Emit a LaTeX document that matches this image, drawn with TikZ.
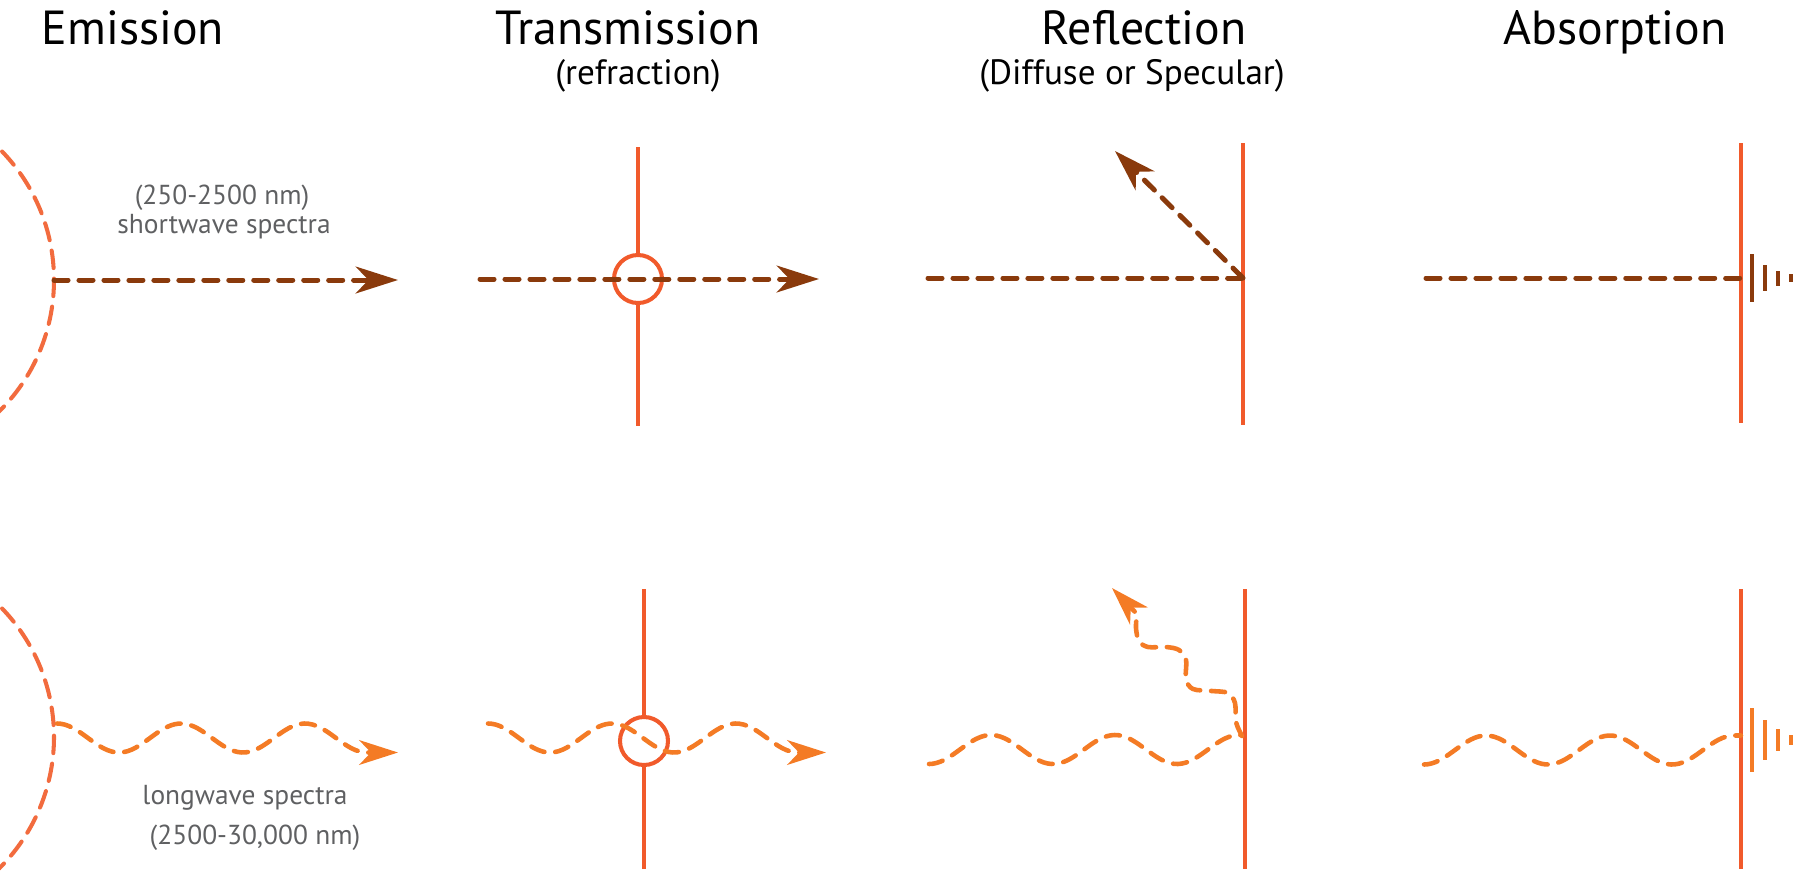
\documentclass[tikz,border=0pt]{standalone}
\usepackage{fontspec}
\setmainfont{PT Sans}
\usetikzlibrary{arrows.meta}
\definecolor{brn}{HTML}{8A3A0C}
\definecolor{org}{HTML}{F15A2B}
\definecolor{arcc}{HTML}{F26B3E}
\definecolor{wavec}{HTML}{F47B25}
\definecolor{txtg}{HTML}{5F6062}
\begin{document}
\begin{tikzpicture}[x=0.01cm,y=-0.01cm,
  surf/.style={draw=org, line width=1.15pt},
  ray/.style={draw=brn, line width=1.42pt, line cap=round, dash pattern=on 4pt off 3.1pt},
  wav/.style={draw=wavec, line width=1.3pt, line cap=round, dash pattern=on 4pt off 3.1pt},
  arcs/.style={draw=arcc, line width=1.15pt, line cap=round, dash pattern=on 5pt off 3pt},
  tipb/.style={-{Stealth[length=12pt,width=7.6pt,inset=3.6pt]}},
  tipo/.style={-{Stealth[length=11pt,width=7pt,inset=3.3pt]}},
  tickb/.style={draw=brn, line width=1.15pt},
  ticko/.style={draw=wavec, line width=1.15pt},
  title/.style={font=\fontsize{13.6}{16}\selectfont, anchor=base, inner sep=0pt},
  sub/.style={font=\fontsize{10}{12}\selectfont, anchor=base, inner sep=0pt},
  note/.style={font=\fontsize{7.8}{9}\selectfont, text=txtg, anchor=base, inner sep=0pt},
]
\useasboundingbox (0,0) rectangle (1793,872);
\clip (0,0) rectangle (1793,872);

% titles
\node[title] (tEm) at (133,44) {Emission};
\node[title] (tTr) at (628,44) {Transmission};
\node[sub]   (sTr) at (638,84) {(refraction)};
\node[title] (tRe) at (1144,44) {Reflection};
\node[sub]   (sRe) at (1132,84) {(Diffuse or Specular)};
\node[title] (tAb) at (1615,44) {Absorption};

% ---------- top row ----------
% emission
\draw[arcs] ([shift={(-44:185)}]-131,280) arc[start angle=-44, end angle=46, radius=185];
\coordinate (e1s) at (54,280);
\coordinate (e1t) at (398,280);
\draw[ray,tipb] (e1s) -- (e1t);
\node[note] (n1) at (222,204) {(250-2500 nm)};
\node[note] (n2) at (224,233) {shortwave spectra};

% transmission
\coordinate (t1c) at (638,279);
\draw[surf] (638,147) -- (638,255);
\draw[surf] (638,303) -- (638,426);
\draw[surf] (t1c) circle[radius=24];
\coordinate (t1s) at (480,279);
\coordinate (t1t) at (819,279);
\draw[ray,tipb] (t1s) -- (t1t);

% reflection
\draw[surf] (1243,143) -- (1243,425);
\coordinate (r1s) at (928,278);
\coordinate (r1h) at (1243,278);
\coordinate (r1t) at (1115,151);
\draw[ray] (r1s) -- (r1h);
\draw[ray,tipb] (r1h) -- (r1t);

% absorption
\draw[surf] (1741,143) -- (1741,423);
\coordinate (a1s) at (1426,278);
\coordinate (a1h) at (1741,278);
\draw[ray] (a1s) -- (a1h);
\draw[tickb] (1752,254) -- (1752,302);
\draw[tickb] (1765,265) -- (1765,291);
\draw[tickb] (1778,271) -- (1778,286);
\draw[tickb] (1791,274) -- (1791,282);

% ---------- bottom row ----------
% emission
\draw[arcs] ([shift={(-44:185)}]-131,737) arc[start angle=-44, end angle=52, radius=185];
\draw[wav,tipo] plot[domain=57:367,samples=80,smooth] (\x,{738-14.5*cos(2.90323*(\x-57))}) -- (398,752.5);
\node[note] (n3) at (245,804) {longwave spectra};
\node[note] (n4) at (255,844) {(2500-30,000 nm)};

% transmission
\draw[surf] (644,589) -- (644,717);
\draw[surf] (644,765) -- (644,869);
\draw[surf] (644,741) circle[radius=24];
\draw[wav,tipo] plot[domain=488:798,samples=80,smooth] (\x,{738-14.5*cos(2.90323*(\x-488))}) -- (826,752.5);

% reflection
\draw[surf] (1245,589) -- (1245,869);
\draw[wav] plot[domain=929:1241,samples=80,smooth] (\x,{749.5+14.5*cos(2.90323*(\x-929))});
\draw[wav,tipo] plot[smooth,tension=0.55] coordinates {(1242,736) (1236,722) (1235,703) (1228,693) (1212,691) (1193,689) (1186,679) (1186,660) (1179,650) (1166,647) (1148,647) (1139,641) (1136,628) (1137,614)} -- (1112,588);

% absorption
\draw[surf] (1741,589) -- (1741,869);
\draw[wav] plot[domain=1424:1734,samples=80,smooth] (\x,{750+14.5*cos(2.90323*(\x-1424))}) -- (1741,735.5);
\draw[ticko] (1752,708) -- (1752,772);
\draw[ticko] (1765,720) -- (1765,760);
\draw[ticko] (1778,729) -- (1778,751);
\draw[ticko] (1791,735) -- (1791,745);
\end{tikzpicture}
\end{document}
